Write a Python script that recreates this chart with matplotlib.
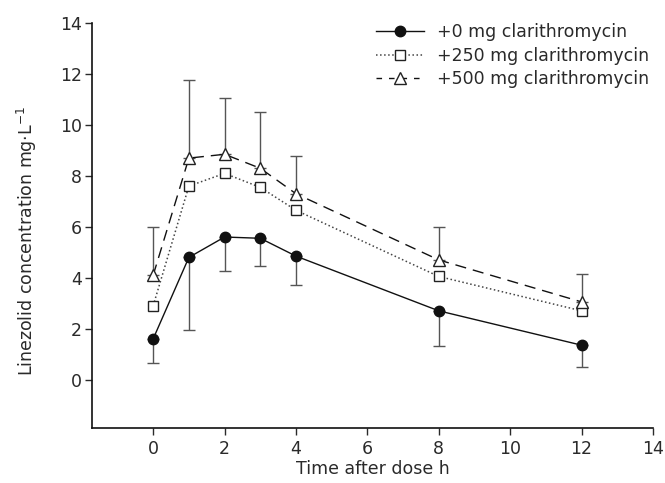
import matplotlib
matplotlib.use("Agg")
import matplotlib.pyplot as plt
from matplotlib.lines import Line2D

plt.rcParams['font.family'] = ['DejaVu Sans']

time_h = [0, 1, 2, 3, 4, 8, 12]
conc_0 = [1.6, 4.8, 5.6, 5.55, 4.85, 2.7, 1.35]
low_0 = [0.65, 1.95, 4.25, 4.45, 3.7, 1.3, 0.5]
conc_250 = [2.9, 7.6, 8.1, 7.55, 6.65, 4.05, 2.7]
conc_500 = [4.1, 8.7, 8.85, 8.3, 7.3, 4.7, 3.05]
high_500 = [6.0, 11.75, 11.05, 10.5, 8.8, 6.0, 4.15]
labels = ["+0 mg clarithromycin", "+250 mg clarithromycin", "+500 mg clarithromycin"]
x_ticks = [0, 2, 4, 6, 8, 10, 12, 14]
y_ticks = [0, 2, 4, 6, 8, 10, 12, 14]

fig = plt.figure(figsize=(6.65, 4.83), dpi=100)
ax = fig.add_axes([0.138, 0.114, 0.844, 0.838])

txt_col = '#2a2a2a'
err_col = '#555555'
lo0 = [c - l for c, l in zip(conc_0, low_0)]
ax.errorbar(time_h, conc_0, yerr=[lo0, [0]*len(lo0)], fmt='none', ecolor=err_col,
            elinewidth=1.0, capsize=4, capthick=1.0, zorder=1)
hi5 = [h - c for c, h in zip(conc_500, high_500)]
ax.errorbar(time_h, conc_500, yerr=[[0]*len(hi5), hi5], fmt='none', ecolor=err_col,
            elinewidth=1.0, capsize=4, capthick=1.0, zorder=1)

ax.plot(time_h, conc_0, '-', color='#111111', lw=1.0, marker='o', ms=7.5,
        mfc='#111111', mec='#111111', zorder=3)
ax.plot(time_h, conc_250, ':', color='#444444', lw=1.1, marker='s', ms=6.5,
        mfc='white', mec='#222222', mew=1.0, zorder=3)
ax.plot(time_h, conc_500, '--', color='#111111', lw=1.0, marker='^', ms=9,
        mfc='white', mec='#222222', mew=1.0, dashes=(8, 5), zorder=3)

ax.set_xlim(-1.72, 14)
ax.set_ylim(-1.9, 14)
ax.set_xticks(x_ticks)
ax.set_yticks(y_ticks)
ax.spines['top'].set_visible(False)
ax.spines['right'].set_visible(False)
for s in ['left', 'bottom']:
    ax.spines[s].set_linewidth(1.2)
    ax.spines[s].set_color('#111111')
ax.tick_params(direction='out', length=5, width=1.0, labelsize=12.5, colors=txt_col)
ax.tick_params(axis='y', pad=2)
ax.tick_params(axis='x', pad=4)
ax.set_xlabel("Time after dose h", fontsize=12.5, color=txt_col, labelpad=1)
ax.set_ylabel("Linezolid concentration mg·L$^{-1}$", fontsize=12.5, color=txt_col)
ax.yaxis.set_label_coords(-0.094, 0.463)

handles = [
    Line2D([], [], ls='-', color='#111111', lw=1.0, marker='o', ms=7.5, mfc='#111111', mec='#111111'),
    Line2D([], [], ls=':', color='#444444', lw=1.1, marker='s', ms=6.5, mfc='white', mec='#222222'),
    Line2D([], [], ls='--', color='#111111', lw=1.0, marker='^', ms=8.5, mfc='white', mec='#222222', dashes=(4, 5)),
]
leg = ax.legend(handles, labels, loc='upper right', bbox_to_anchor=(1.012, 1.025), frameon=False,
                fontsize=12.5, handlelength=2.8, handletextpad=0.75, labelspacing=0.3, borderaxespad=0.2)
for t in leg.get_texts():
    t.set_color(txt_col)

fig.savefig("out.png", dpi=100)
